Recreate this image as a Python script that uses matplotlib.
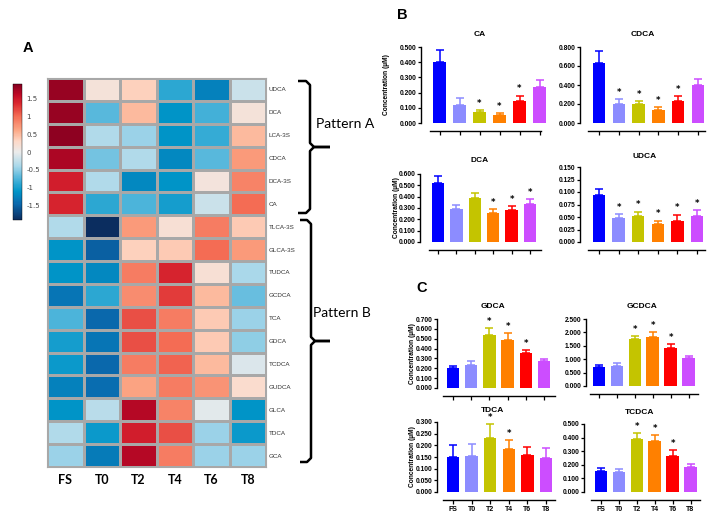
import matplotlib
matplotlib.use("Agg")
import matplotlib.pyplot as plt
import numpy as np
from matplotlib.colors import LinearSegmentedColormap

# heatmap data (z-scores), rows top -> bottom, columns FS..T8
timepoints = ["FS", "T0", "T2", "T4", "T6", "T8"]
acids = ["UDCA", "DCA", "LCA-3S", "CDCA", "DCA-3S", "CA",
         "TLCA-3S", "GLCA-3S", "TUDCA", "GCDCA", "TCA", "GDCA",
         "TCDCA", "GUDCA", "GLCA", "TDCA", "GCA"]
heat_values = [
    [1.80, 0.15, 0.35, -0.90, -1.25, -0.20],
    [1.80, -0.70, 0.50, -1.10, -0.80, 0.15],
    [1.85, -0.35, -0.45, -1.10, -0.85, 0.50],
    [1.70, -0.60, -0.35, -1.20, -0.70, 0.70],
    [1.45, -0.35, -1.20, -1.10, 0.12, 0.85],
    [1.40, -0.90, -0.75, -1.00, -0.20, 1.00],
    [-0.35, -1.90, 0.70, 0.20, 0.90, 0.40],
    [-1.10, -1.50, 0.35, 0.40, 1.00, 0.70],
    [-1.10, -1.20, 0.90, 1.40, 0.20, -0.40],
    [-1.35, -0.90, 0.80, 1.25, 0.50, -0.65],
    [-0.75, -1.45, 1.15, 0.90, 0.40, -0.45],
    [-1.00, -1.35, 1.15, 1.00, 0.40, -0.50],
    [-1.05, -1.45, 0.90, 1.05, 0.50, -0.10],
    [-1.25, -1.40, 0.65, 0.90, 0.75, 0.25],
    [-1.10, -0.30, 1.65, 0.85, -0.05, -1.10],
    [-0.35, -1.05, 1.45, 1.15, -0.45, -1.05],
    [-0.45, -1.30, 1.65, 0.90, -0.45, -0.45],
]
cbar_ticks = [1.5, 1, 0.5, 0, -0.5, -1, -1.5]

# bar chart data: mean concentration (uM), SEM, significant groups
ca_mean = [0.400, 0.120, 0.072, 0.055, 0.145, 0.240]
ca_err = [0.080, 0.042, 0.012, 0.012, 0.035, 0.040]
ca_star = [2, 3, 4]
cdca_mean = [0.635, 0.200, 0.200, 0.135, 0.230, 0.400]
cdca_err = [0.125, 0.050, 0.030, 0.030, 0.055, 0.060]
cdca_star = [1, 2, 3, 4]
dca_mean = [0.520, 0.290, 0.385, 0.252, 0.282, 0.337]
dca_err = [0.060, 0.040, 0.045, 0.035, 0.035, 0.045]
dca_star = [3, 4, 5]
udca_mean = [0.094, 0.048, 0.052, 0.036, 0.042, 0.052]
udca_err = [0.012, 0.008, 0.009, 0.007, 0.013, 0.012]
udca_star = [1, 2, 3, 4, 5]
gdca_mean = [0.200, 0.235, 0.540, 0.490, 0.355, 0.270]
gdca_err = [0.020, 0.040, 0.070, 0.065, 0.030, 0.025]
gdca_star = [2, 3, 4]
gcdca_mean = [0.700, 0.760, 1.750, 1.830, 1.400, 1.030]
gcdca_err = [0.080, 0.080, 0.130, 0.180, 0.160, 0.100]
gcdca_star = [2, 3, 4]
tdca_mean = [0.150, 0.155, 0.230, 0.185, 0.157, 0.147]
tdca_err = [0.050, 0.050, 0.060, 0.037, 0.037, 0.042]
tdca_star = [2, 3]
tcdca_mean = [0.155, 0.148, 0.390, 0.372, 0.262, 0.187]
tcdca_err = [0.022, 0.022, 0.045, 0.045, 0.045, 0.022]
tcdca_star = [2, 3, 4]

bar_colors = ["#0000ff", "#8c8cff", "#c4c400", "#ff8000", "#ff0000", "#cc4dff"]

# colour scale
vmin, vmax = -1.9, 1.9
cmap_stops = [(-1.9, "#0b2d5f"), (-1.45, "#0a68ad"), (-1.1, "#0095c8"),
              (-0.75, "#4db4da"), (-0.4, "#a9d8ea"), (0.0, "#ebebeb"),
              (0.3, "#fdd9c8"), (0.6, "#fcaa88"), (1.0, "#f46d55"),
              (1.35, "#dc2a30"), (1.6, "#c10a26"), (1.9, "#850020")]
heat_cmap = LinearSegmentedColormap.from_list(
    "heat", [((v - vmin) / (vmax - vmin), c) for v, c in cmap_stops])

W, H = 717, 520
fig = plt.figure(figsize=(7.17, 5.2), dpi=100)
fig.patch.set_facecolor("white")


def px_axes(x0, y0, x1, y1):
    # axes placed by pixel box (top-left origin)
    return fig.add_axes([x0 / W, 1 - y1 / H, (x1 - x0) / W, (y1 - y0) / H])


def px_text(x, y, s, **kw):
    fig.text(x / W, 1 - y / H, s, **kw)


# ---- panel A: heatmap ----
ax = px_axes(47, 78, 266, 467)
mesh = ax.pcolormesh(np.array(heat_values), cmap=heat_cmap, vmin=vmin, vmax=vmax,
                     edgecolors="#a8a8a8", linewidth=0.8)
ax.set_xlim(0, 6)
ax.set_ylim(len(acids), 0)
ax.set_xticks([])
ax.set_yticks(np.arange(len(acids)) + 0.5)
ax.set_yticklabels(acids, fontsize=4.5, family="Liberation Sans", color="#333333")
ax.yaxis.tick_right()
ax.tick_params(length=0, pad=2)
for sp in ax.spines.values():
    sp.set_color("#a8a8a8")
for j, lab in enumerate(timepoints):
    ax.text(j + 0.5, 17.57, lab, ha="center", va="center", fontsize=9,
            fontweight="bold", family="Lato", clip_on=False)

cax = px_axes(13, 84, 22, 220)
cb = fig.colorbar(mesh, cax=cax)
cb.set_ticks(cbar_ticks)
cb.set_ticklabels(["1.5", "1", "0.5", "0", "-0.5", "-1", "-1.5"])
cax.tick_params(labelsize=5, length=0, pad=3, labelcolor="#444444")
cb.outline.set_linewidth(0.3)

for lab, x, y in [("A", 28, 48), ("B", 402, 15), ("C", 422, 288)]:
    px_text(x, y, lab, fontsize=10.5, fontweight="bold", family="Liberation Sans",
            ha="center", va="center")

# brackets + pattern labels on an overlay in pixel coords
ov = fig.add_axes([0, 0, 1, 1])
ov.set_xlim(0, W)
ov.set_ylim(H, 0)
ov.axis("off")
ov.patch.set_alpha(0)


def brace(xv, y0, y1, xl=298, xr=330):
    ym = (y0 + y1) / 2
    ov.plot([xl, xv - 4, xv, xv, xv + 4, xr], [y0, y0, y0 + 4, ym - 4, ym, ym],
            color="black", lw=1.8, solid_capstyle="butt")
    ov.plot([xr, xv + 4, xv, xv, xv - 4, xl], [ym, ym, ym + 4, y1 - 4, y1, y1],
            color="black", lw=1.8, solid_capstyle="butt")


brace(310, 81, 213)
brace(311, 220, 462, xl=300)
ov.text(316, 124, "Pattern A", fontsize=10, family="Lato", va="center")
ov.text(313, 313, "Pattern B", fontsize=10, family="Lato", va="center")


# ---- panels B and C: bar charts ----
def bar_panel(name, means, errs, stars, spine_x, c0, step, line_x0, line_x1,
              y_top, y_zero, ymax, ytick, title_xy, ylabel_x=None, xlabels=False):
    right_px = c0 + 5.5 * step
    ax = px_axes(spine_x, y_top, right_px, y_zero)
    x = np.arange(len(means))
    right = (right_px - c0) / step
    ax.set_xlim((spine_x - c0) / step, right)
    ax.set_ylim(0, ymax)
    for sp in ["top", "right"]:
        ax.spines[sp].set_visible(False)
    ax.spines["left"].set_linewidth(1.0)
    ax.spines["bottom"].set_linewidth(1.0)
    # spine position resets ticks, so do it before the tick labels
    ax.spines["bottom"].set_position(("outward", 5.5))
    ax.spines["bottom"].set_bounds((line_x0 - c0) / step, (line_x1 - c0) / step)

    ax.bar(x, means, width=12.5 / step, color=bar_colors, zorder=2)
    for xi, m, e, c in zip(x, means, errs, bar_colors):
        ax.errorbar(xi, m, yerr=[[0], [e]], fmt="none", ecolor=c, elinewidth=1.1,
                    capsize=2.6, capthick=1.1, zorder=1)
    for s in stars:
        ax.text(s, means[s] + errs[s] + ymax * 0.03, "*", ha="center", va="bottom",
                fontsize=6, fontweight="bold")

    yt = np.arange(0, ymax + ytick / 2, ytick)
    ax.set_yticks(yt)
    ax.set_yticklabels([f"{v:.3f}" for v in yt], fontsize=4.8, fontweight="bold",
                       family="Liberation Sans")
    ax.set_xticks(x)
    if xlabels:
        ax.set_xticklabels(timepoints, fontsize=5, fontweight="bold",
                           family="Liberation Sans")
    else:
        ax.set_xticklabels([])
    ax.tick_params(axis="y", length=2.5, width=0.9, pad=1)
    ax.tick_params(axis="x", length=3, width=0.9, pad=1.5)
    ax.patch.set_alpha(0)
    px_text(title_xy[0], title_xy[1], name, fontsize=6, fontweight="bold",
            family="Liberation Sans", ha="center", va="center")
    if ylabel_x is not None:
        px_text(ylabel_x, (y_top + y_zero) / 2, "Concentration (\u00b5M)", fontsize=4.8,
                fontweight="bold", family="Liberation Sans", rotation=90,
                ha="center", va="center")


bar_panel("CA", ca_mean, ca_err, ca_star, 421, 439.5, 20.0, 430, 541,
          47, 123, 0.5, 0.1, (480, 34), ylabel_x=387)
bar_panel("CDCA", cdca_mean, cdca_err, cdca_star, 580, 599, 19.8, 588, 705,
          47, 123, 0.8, 0.2, (643, 34))
bar_panel("DCA", dca_mean, dca_err, dca_star, 420, 438, 18.4, 429, 541,
          174, 242, 0.6, 0.1, (480, 160), ylabel_x=396)
bar_panel("UDCA", udca_mean, udca_err, udca_star, 580, 599, 19.6, 588, 705,
          167, 242, 0.15, 0.025, (645, 156))
bar_panel("GDCA", gdca_mean, gdca_err, gdca_star, 437, 453, 18.2, 443, 555,
          319, 388, 0.7, 0.1, (493, 307), ylabel_x=413)
bar_panel("GCDCA", gcdca_mean, gcdca_err, gcdca_star, 586, 599, 17.9, 590, 698,
          319, 386, 2.5, 0.5, (642, 307))
bar_panel("TDCA", tdca_mean, tdca_err, tdca_star, 437, 453, 18.6, 443, 555,
          422, 492, 0.3, 0.05, (492, 410), ylabel_x=413, xlabels=True)
bar_panel("TCDCA", tcdca_mean, tcdca_err, tcdca_star, 584, 601, 17.9, 591, 700,
          424, 492, 0.5, 0.1, (640, 412), xlabels=True)

fig.savefig("out.png", dpi=100)
